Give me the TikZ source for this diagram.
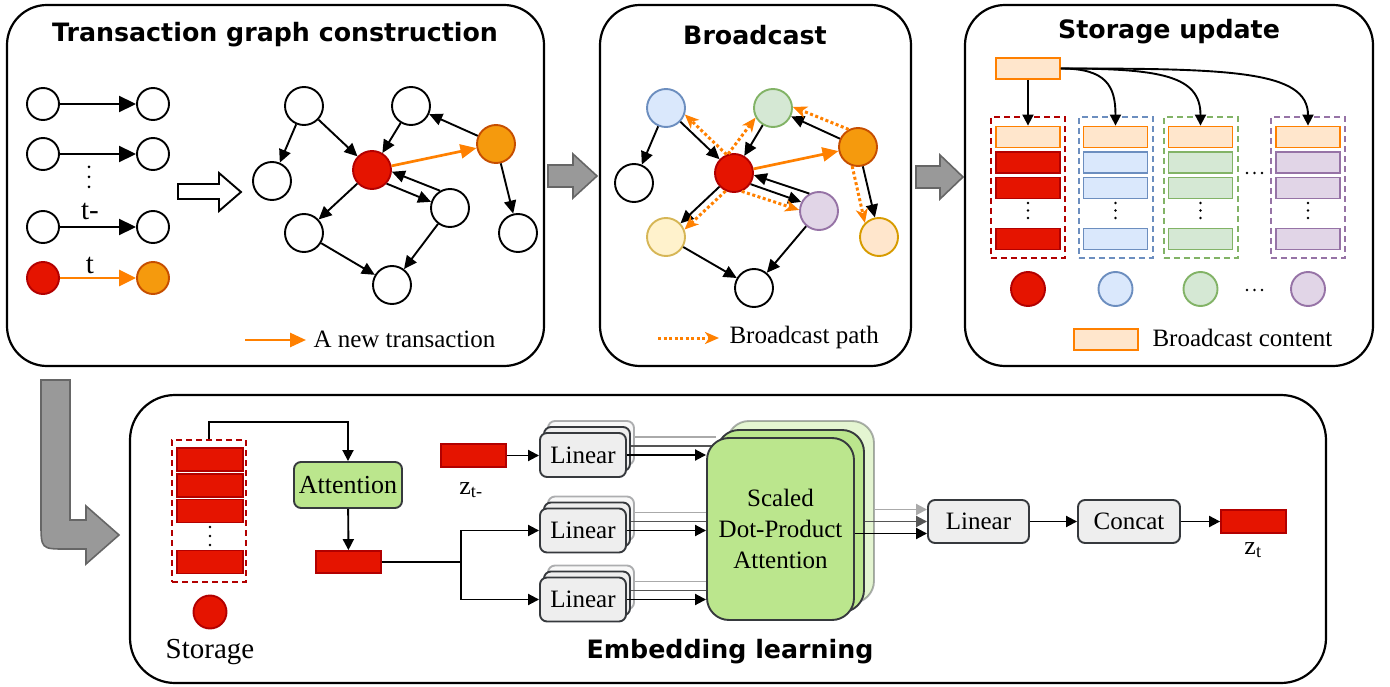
\documentclass[tikz,border=0pt]{standalone}
\usepackage{fontspec}
\setmainfont{Liberation Serif}
\newfontfamily\headfont{DejaVu Sans}
\usetikzlibrary{arrows.meta}

\definecolor{fillred}{HTML}{E51400}
\definecolor{linered}{HTML}{B20000}
\definecolor{fillor}{HTML}{F59A0D}
\definecolor{lineor}{HTML}{C64E00}
\definecolor{orarrow}{HTML}{FF8000}
\definecolor{fillblue}{HTML}{DAE8FC}
\definecolor{lineblue}{HTML}{6C8EBF}
\definecolor{fillgreen}{HTML}{D5E8D4}
\definecolor{linegreen}{HTML}{82B366}
\definecolor{fillpurple}{HTML}{E1D5E7}
\definecolor{linepurple}{HTML}{9673A6}
\definecolor{fillyellow}{HTML}{FFF2CC}
\definecolor{lineyellow}{HTML}{D6B656}
\definecolor{fillpeach}{HTML}{FFE6CC}
\definecolor{linepeach}{HTML}{D79B00}
\definecolor{attfill}{HTML}{BBE68D}
\definecolor{boxline}{HTML}{36393D}
\definecolor{linfill}{HTML}{EEEEEE}
\definecolor{grayfill}{HTML}{999999}
\definecolor{grayline}{HTML}{666666}
\definecolor{lightline}{HTML}{AAAAAA}
\definecolor{darkline}{HTML}{555555}

\begin{document}
\begin{tikzpicture}[x=1pt, y=-1pt,
    every node/.style={font=\fontsize{25}{31}\selectfont},
    panel/.style={draw, line width=2.2pt, rounded corners=40pt},
    heading/.style={font=\headfont\bfseries\fontsize{25.3}{30}\selectfont},
    vtx/.style={circle, draw, line width=1.9pt, fill=white, minimum size=38pt, inner sep=0pt},
    txedge/.style={line width=1.9pt, -{Triangle[length=13pt,width=12pt]}},
    newtx/.style={orarrow, line width=2.7pt, -{Triangle[length=16pt,width=14pt]}},
    bpath/.style={orarrow, line width=3pt, dash pattern=on 3pt off 2.5pt, -{Stealth[length=14pt,width=12pt,inset=4pt]}},
    bigarrow/.style={fill=grayfill, draw=grayline, line width=1.6pt},
    vec/.style={draw=linered, fill=fillred, line width=1.8pt, minimum width=65pt, minimum height=22pt, inner sep=0pt},
    slot/.style={vec, minimum width=64pt, minimum height=21pt},
    bcbox/.style={slot, draw=orarrow, fill=fillpeach},
    grp/.style={draw, line width=2pt, dash pattern=on 6pt off 4pt, minimum width=74pt, minimum height=141pt, inner sep=0pt},
    nn/.style={draw=boxline, fill=linfill, line width=1.9pt, rounded corners=7pt, minimum width=86pt, minimum height=44pt, inner sep=0pt},
    link/.style={line width=1.9pt, -{Triangle[length=11pt,width=11pt]}}
]
\useasboundingbox (0,0) rectangle (1390,687);

% transaction graph construction
\draw[panel] (7,5) rectangle (544,366);
\node[heading] (ttl1) at (275,35) {Transaction graph construction};
\foreach \y [count=\k] in {104,154,227} {
    \node[vtx, minimum size=32pt] (src\k) at (43,\y) {};
    \node[vtx, minimum size=32pt] (dst\k) at (153,\y) {};
    \draw[line width=1.9pt, -{Triangle[length=17pt,width=16pt]}] (src\k) -- (dst\k);
}
\node[vtx, minimum size=32pt, fill=fillred, draw=linered] (src4) at (43,278) {};
\node[vtx, minimum size=32pt, fill=fillor, draw=lineor] (dst4) at (153,278) {};
\draw[newtx, -{Triangle[length=17pt,width=16pt]}] (src4) -- (dst4);
\foreach \d in {167,177,187} \fill (89,\d) circle (1.5pt);
\node[font=\fontsize{29}{30}\selectfont] (told) at (90,211) {t-};
\node[font=\fontsize{29}{30}\selectfont] (tnew) at (90,265) {t};
\draw[line width=1.9pt, fill=white] (178,184) -- (219,184) -- (219,173) -- (241,192)
    -- (219,211) -- (219,199) -- (178,199) -- cycle;

\node[vtx] (u1) at (304,106) {};
\node[vtx] (u2) at (411,106) {};
\node[vtx, fill=fillor, draw=lineor] (rcv) at (496,144) {};
\node[vtx] (u3) at (272,181) {};
\node[vtx, fill=fillred, draw=linered] (snd) at (372,170) {};
\node[vtx] (u4) at (450,208) {};
\node[vtx] (u5) at (304,233) {};
\node[vtx] (u6) at (518,233) {};
\node[vtx] (u7) at (392,285) {};
\draw[txedge] (u1) -- (u3);
\draw[txedge] (u1) -- (snd);
\draw[txedge] (u2) -- (snd);
\draw[txedge] (rcv) -- (u2);
\draw[txedge] (rcv) -- (u6);
\draw[txedge] (snd) -- (u5);
\draw[txedge] (u4.120) -- (snd.-5);
\draw[txedge] (snd.-43) -- (u4.162);
\draw[txedge] (u4) -- (u7);
\draw[txedge] (u5) -- (u7);
\draw[newtx] (snd) -- (rcv);

\coordinate (k1a) at (245,340);
\coordinate (k1b) at (306,340);
\draw[newtx] (k1a) -- (k1b);
\node[anchor=west] (k1) at (310,339) {A new transaction};

\draw[bigarrow] (548,165) -- ++(25,0) -- ++(0,-11) -- ++(24,22) -- ++(-24,22)
    -- ++(0,-11) -- ++(-25,0) -- cycle;

% broadcast
\draw[panel] (600,5) rectangle (911,366);
\node[heading] (ttl2) at (755,35) {Broadcast};
\node[vtx, fill=fillblue, draw=lineblue] (nblue) at (666,108) {};
\node[vtx, fill=fillgreen, draw=linegreen] (ngreen) at (773,108) {};
\node[vtx, fill=fillor, draw=lineor] (brcv) at (858,147) {};
\node[vtx] (nw1) at (634,183) {};
\node[vtx, fill=fillred, draw=linered] (bsnd) at (734,173) {};
\node[vtx, fill=fillpurple, draw=linepurple] (npurple) at (819,211) {};
\node[vtx, fill=fillyellow, draw=lineyellow] (nyellow) at (666,237) {};
\node[vtx, fill=fillpeach, draw=linepeach] (npeach) at (879,237) {};
\node[vtx] (nw2) at (754,288) {};
\draw[txedge] (nblue) -- (nw1);
\draw[txedge] (nblue) -- (bsnd);
\draw[txedge] (ngreen) -- (bsnd);
\draw[txedge] (brcv) -- (ngreen);
\draw[txedge] (brcv.-76) -- (npeach.102);
\draw[txedge] (npurple.119) -- (bsnd.-6);
\draw[txedge] (bsnd.-34) -- (npurple.153);
\draw[txedge] (bsnd) -- (nyellow);
\draw[txedge] (npurple) -- (nw2);
\draw[txedge] (nyellow) -- (nw2);
\draw[newtx] (bsnd) -- (brcv);
\draw[bpath] (bsnd.112) -- (nblue.-19);
\draw[bpath] (bsnd.107) -- (ngreen.209);
\draw[bpath] (brcv.118) -- (ngreen.3);
\draw[bpath] (bsnd.245) -- (nyellow.22);
\draw[bpath] (bsnd.-67) -- (npurple.177);
\draw[bpath] (brcv.-107) -- (npeach.135);

\coordinate (k2a) at (658,338);
\coordinate (k2b) at (719,338);
\draw[bpath] (k2a) -- (k2b);
\node[anchor=west] (k2) at (726,337) {Broadcast path};

\draw[bigarrow] (916,166) -- ++(24,0) -- ++(0,-11) -- ++(23,22) -- ++(-23,22)
    -- ++(0,-11) -- ++(-24,0) -- cycle;

% storage update
\draw[panel] (965,5) rectangle (1373,366);
\node[heading] (ttl3) at (1169,32) {Storage update};
\node[bcbox] (bc) at (1028,68.5) {};
\foreach \x/\c [count=\k] in {1028/red, 1115.5/blue, 1200.5/green, 1308/purple} {
    \node[grp, draw=line\c] (col\k) at (\x,187.5) {};
    \node[bcbox] (top\k) at (\x,137) {};
    \node[slot, fill=fill\c, draw=line\c] (cella\k) at (\x,162.5) {};
    \node[slot, fill=fill\c, draw=line\c] (cellb\k) at (\x,188) {};
    \node[slot, fill=fill\c, draw=line\c] (cellc\k) at (\x,239) {};
    \foreach \d in {203,210.5,218} \fill (\x,\d) circle (1.3pt);
    \node[vtx, minimum size=34pt, fill=fill\c, draw=line\c] (own\k) at (\x,289) {};
}
\foreach \d in {1247,1254.5,1262} {
    \fill (\d,173) circle (1.3pt);
    \fill (\d,290) circle (1.3pt);
}
\draw[link] (bc) -- (top1);
\foreach \k/\a/\b in {2/45/40, 3/100/50, 4/170/55}
    \draw[link] (bc.east) .. controls +(\a,0) and +(0,-\b) .. (top\k.north);
\node[bcbox] (k3box) at (1106,339.5) {};
\node[anchor=west] (k3) at (1149,338) {Broadcast content};

% embedding learning
\draw[bigarrow] (41,380) -- (70,380) -- (70,520) -- (86,520) -- (86,506) -- (119,535)
    -- (86,564) -- (86,549) -- (66,549) .. controls (41,549) .. (41,522) -- cycle;
\draw[panel, rounded corners=45pt] (130,395) rectangle (1326,683);
\node[heading] (ttl4) at (730,652) {Embedding learning};

\node[grp, draw=linered, minimum height=142pt] (stg) at (209,511) {};
\foreach \y [count=\k] in {459.5,485.5,511,562}
    \node[vec, minimum width=66pt, minimum height=23pt] (mem\k) at (210,\y) {};
\foreach \d in {527,536,545} \fill (210,\d) circle (1.3pt);
\node[vtx, minimum size=33pt, fill=fillred, draw=linered] (own) at (210,612) {};
\node[font=\fontsize{29}{30}\selectfont] (stglbl) at (210,652) {Storage};

\node[nn, fill=attfill, minimum width=108pt, minimum height=46pt, font=\fontsize{26}{30}\selectfont] (att) at (348,485) {Attention};
\node[vec] (agg) at (348.5,562) {};
\draw[link] (stg.north) -- ++(0,-17) -| (att.north);
\draw[link] (att) -- (agg);

\node[vec, minimum height=23pt] (zold) at (473.5,455.5) {};
\node[font=\fontsize{26}{30}\selectfont] (zoldlbl) at (471,490) {z\textsubscript{t-}};

% heads
\node[nn, fill=attfill, opacity=0.4, rounded corners=22pt, minimum width=147pt, minimum height=182pt] (sdpac) at (800.5,512) {};
\node[nn, fill=attfill, rounded corners=22pt, minimum width=147pt, minimum height=182pt] (sdpab) at (790.5,521) {};
\foreach \y [count=\k] in {455,530.5,599.5} {
    \node[nn, opacity=0.4] (linc\k) at (591,\y-12) {};
    \node[nn] (linb\k) at (587,\y-6) {};
    \node[nn] (lin\k) at (583,\y) {Linear};
    \coordinate (oc\k) at ([yshift=6pt]linc\k.east);
    \coordinate (ob\k) at ([yshift=3pt]linb\k.east);
    \draw[lightline, line width=1.9pt] (oc\k) -- (oc\k -| sdpab.west);
    \draw[darkline, line width=1.9pt] (ob\k) -- (ob\k -| sdpab.west);
}
\node[nn, fill=attfill, rounded corners=22pt, minimum width=147pt, minimum height=182pt, align=center] (sdpa) at (780.5,529) {Scaled\\Dot-Product\\Attention};
\foreach \k in {1,2,3}
    \draw[link] (lin\k.east) -- (lin\k.east -| sdpa.west);
\draw[link] (zold.east) -- (zold.east -| lin1.west);
\draw[link] (agg.east) -- ++(79,0) |- (lin2.west);
\draw[link] (agg.east) -- ++(79,0) |- (lin3.west);

\node[nn, minimum width=101pt, minimum height=43pt] (linf) at (978.5,521.5) {Linear};
\node[nn, minimum width=102pt, minimum height=43pt] (cat) at (1129,521.5) {Concat};
\node[vec, minimum height=23pt] (znew) at (1253.5,521.5) {};
\node[font=\fontsize{26}{30}\selectfont] (znewlbl) at (1253,550) {z\textsubscript{t}};
\coordinate (inc) at ([yshift=12pt]linf.west);
\coordinate (ina) at ([yshift=-12pt]linf.west);
\draw[link, lightline] (inc -| sdpac.east) -- (inc);
\draw[link, darkline] (linf.west -| sdpab.east) -- (linf.west);
\draw[link] (ina -| sdpa.east) -- (ina);
\draw[link] (linf) -- (cat);
\draw[link] (cat) -- (znew);
\end{tikzpicture}
\end{document}
